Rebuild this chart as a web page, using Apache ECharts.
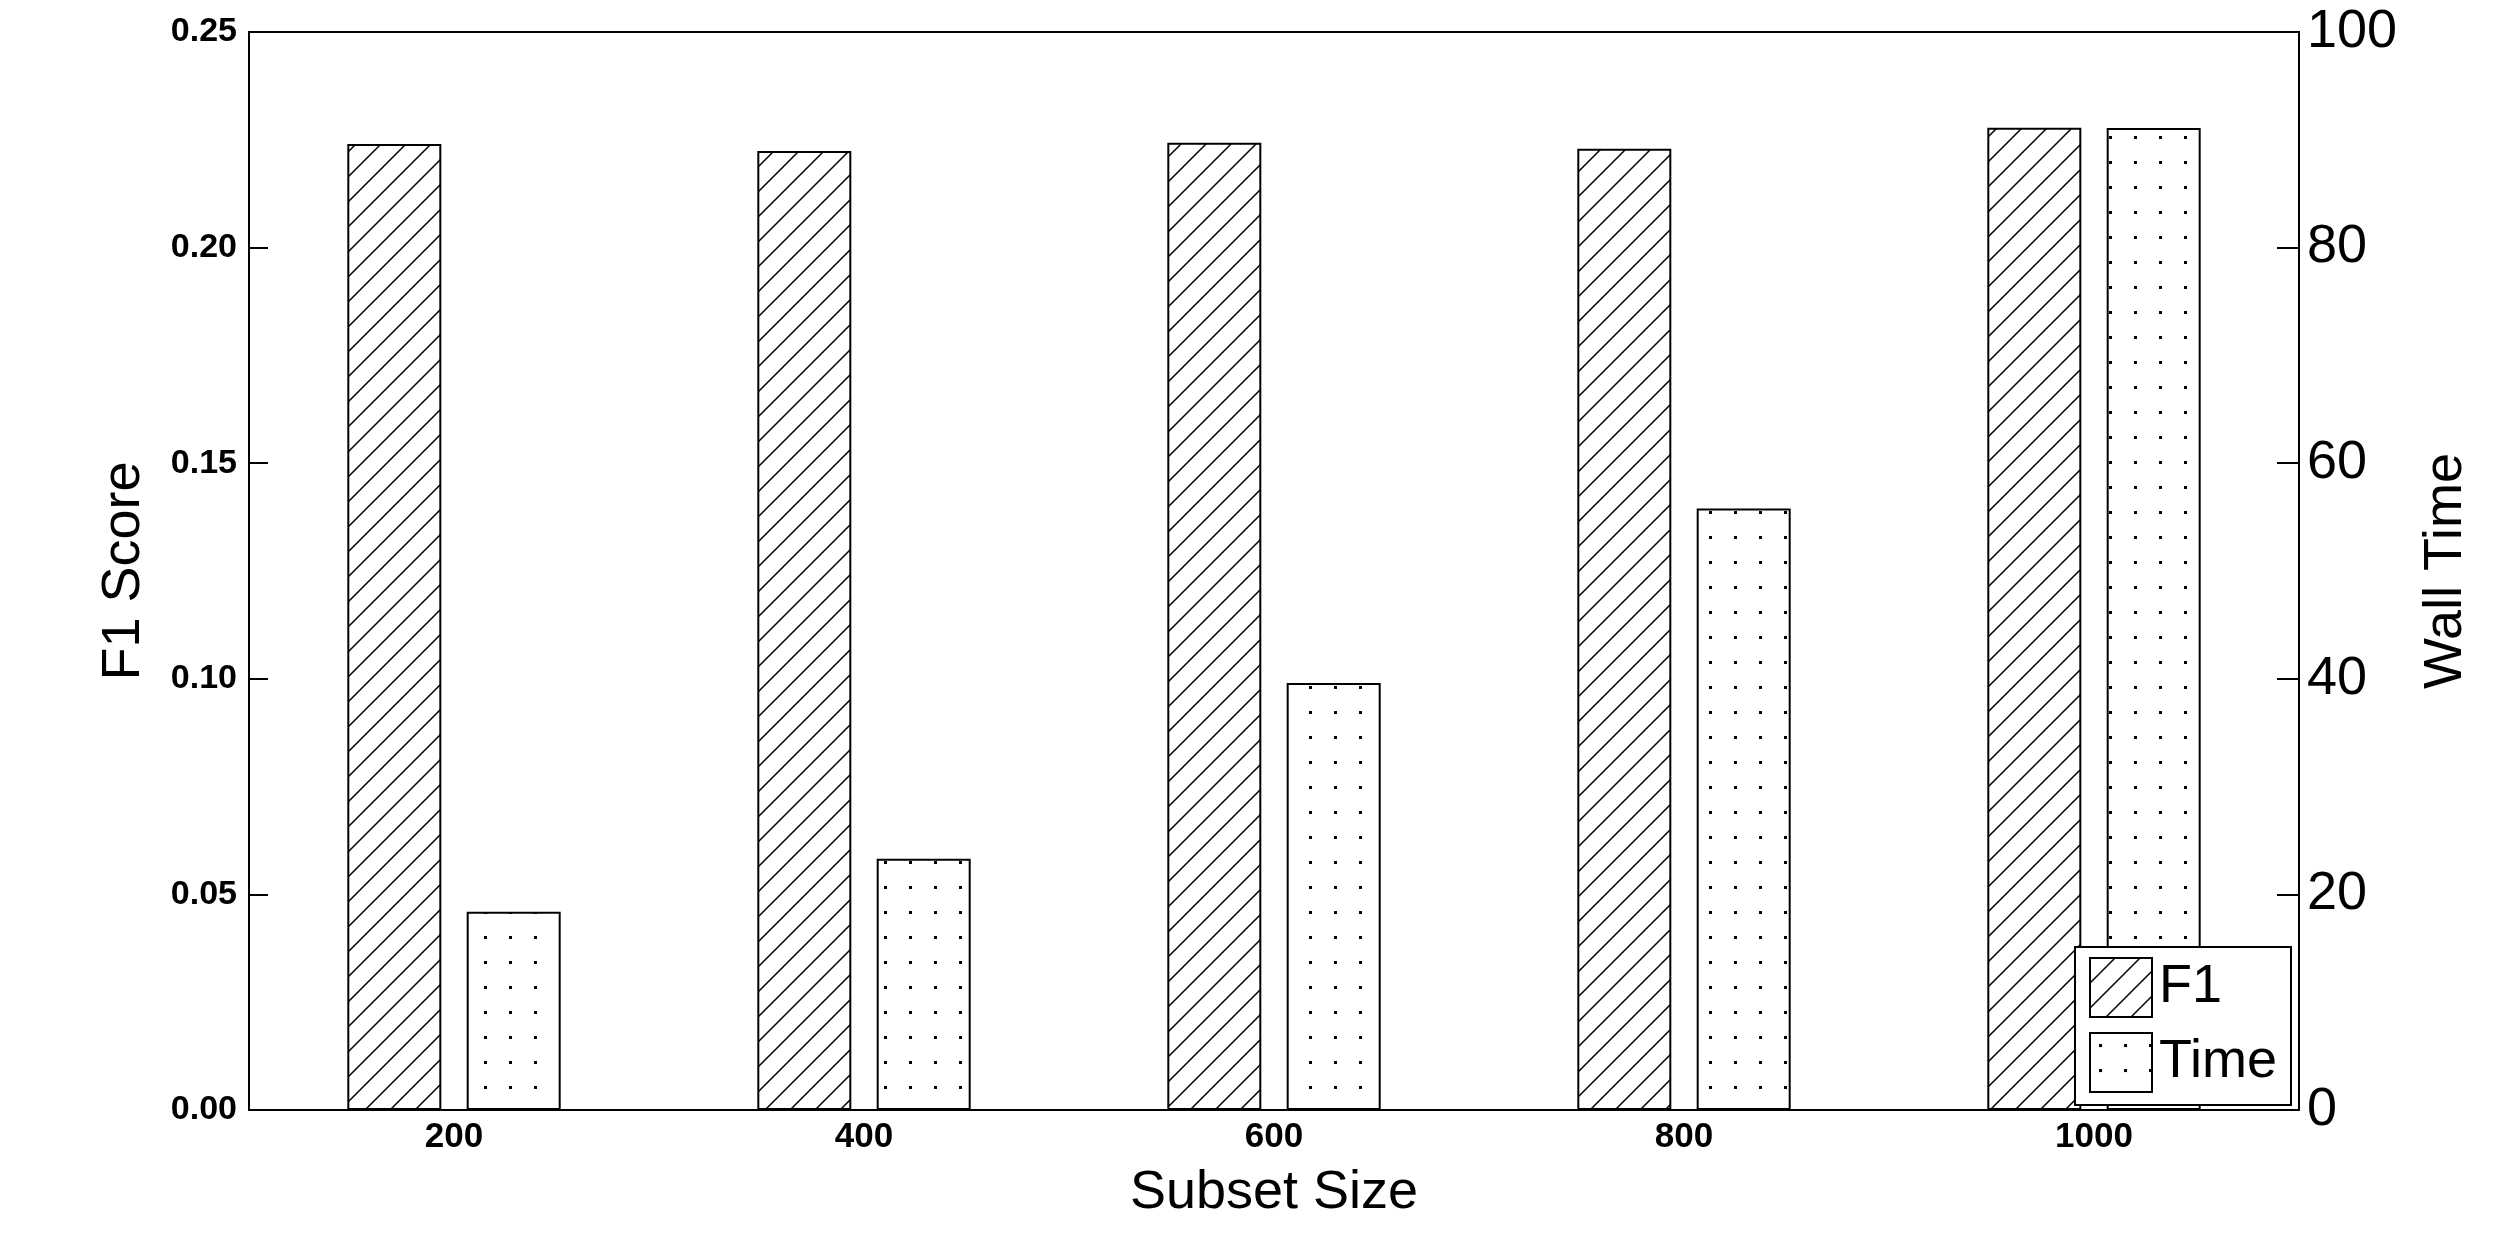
<!doctype html>
<html>
    <head>
        <meta charset="utf-8">
        <title>F1 Score vs Wall Time</title>
        <style>
            html, body { margin: 0; padding: 0; background: #fff; }
            #main { width: 2507px; height: 1259px; }
        </style>
    </head>
    <body>
        <div id="main"></div>
        <script src="https://cdn.jsdelivr.net/npm/echarts@6/dist/echarts.min.js"></script>
        <script>
            var subsetSizes = ['200', '400', '600', '800', '1000'];
            var f1Scores = [0.2240, 0.2224, 0.2243, 0.2229, 0.2278];
            var wallTimes = [18.4, 23.3, 39.6, 55.8, 91.1];
            var f1Ticks = [0, 0.05, 0.10, 0.15, 0.20, 0.25];
            var timeTicks = [0, 20, 40, 60, 80, 100];

            // hatch and dot fills, like the old matlab bar patterns
            function hatchPattern() {
                var c = document.createElement('canvas');
                c.width = 25; c.height = 25;
                var g = c.getContext('2d');
                g.fillStyle = '#fff';
                g.fillRect(0, 0, 25, 25);
                g.strokeStyle = '#000';
                g.lineWidth = 1.5;
                g.beginPath();
                g.moveTo(-2, 27); g.lineTo(27, -2);
                g.moveTo(-2, 2); g.lineTo(2, -2);
                g.moveTo(23, 27); g.lineTo(27, 23);
                g.stroke();
                return c;
            }

            function dotPattern() {
                var c = document.createElement('canvas');
                c.width = 25; c.height = 25;
                var g = c.getContext('2d');
                g.fillStyle = '#fff';
                g.fillRect(0, 0, 25, 25);
                g.fillStyle = '#000';
                g.fillRect(9, 11, 3, 3);
                return c;
            }

            var hatch = { image: hatchPattern(), repeat: 'repeat' };
            var dots = { image: dotPattern(), repeat: 'repeat' };

            var font = 'Liberation Sans, Arial, Helvetica, sans-serif';

            var chart = echarts.init(document.getElementById('main'));
            chart.setOption({
                animation: false,
                backgroundColor: '#fff',
                textStyle: { fontFamily: font, color: '#000' },
                grid: {
                    left: 249,
                    right: 208,
                    top: 32,
                    bottom: 149,
                    show: true,
                    borderColor: '#000',
                    borderWidth: 2,
                    backgroundColor: '#fff'
                },
                legend: {
                    orient: 'vertical',
                    right: 216,
                    top: 947,
                    padding: [10, 14, 12, 14],
                    itemGap: 14,
                    itemWidth: 62,
                    itemHeight: 59,
                    borderColor: '#000',
                    borderWidth: 2,
                    backgroundColor: '#fff',
                    icon: 'rect',
                    textStyle: { fontSize: 54, lineHeight: 59, color: '#000', fontFamily: font, padding: [0, 0, 0, 2] },
                    data: ['F1', 'Time']
                },
                xAxis: {
                    type: 'category',
                    data: subsetSizes,
                    name: 'Subset Size',
                    nameLocation: 'middle',
                    nameGap: 56,
                    nameTextStyle: { fontSize: 54, color: '#000' },
                    axisLine: { lineStyle: { color: '#000', width: 2 } },
                    axisTick: { alignWithLabel: true, inside: true, length: 22, lineStyle: { color: '#000', width: 2 } },
                    axisLabel: { fontSize: 35, fontWeight: 'bold', color: '#000', margin: 10 },
                    splitLine: { show: false }
                },
                yAxis: [
                    {
                        type: 'value',
                        min: f1Ticks[0],
                        max: f1Ticks[f1Ticks.length - 1],
                        interval: 0.05,
                        name: 'F1 Score',
                        nameLocation: 'middle',
                        nameGap: 98,
                        nameTextStyle: { fontSize: 54, color: '#000' },
                        axisLine: { show: true, lineStyle: { color: '#000', width: 2 } },
                        axisTick: { show: true, inside: true, length: 19, lineStyle: { color: '#000', width: 2 } },
                        axisLabel: {
                            fontSize: 34, fontWeight: 'bold', color: '#000', margin: 12,
                            formatter: function (v) { return v.toFixed(2); }
                        },
                        splitLine: { show: false }
                    },
                    {
                        type: 'value',
                        min: timeTicks[0],
                        max: timeTicks[timeTicks.length - 1],
                        interval: 20,
                        name: 'Wall Time',
                        nameLocation: 'middle',
                        nameGap: 120,
                        nameTextStyle: { fontSize: 54, color: '#000' },
                        axisLine: { show: true, lineStyle: { color: '#000', width: 2 } },
                        axisTick: { show: true, inside: true, length: 22, lineStyle: { color: '#000', width: 2 } },
                        axisLabel: { fontSize: 54, color: '#000', margin: 8 },
                        splitLine: { show: false }
                    }
                ],
                series: [
                    {
                        name: 'F1',
                        type: 'bar',
                        yAxisIndex: 0,
                        data: f1Scores,
                        barWidth: 94,
                        barGap: '27%',
                        itemStyle: { color: hatch, borderColor: '#000', borderWidth: 2 }
                    },
                    {
                        name: 'Time',
                        type: 'bar',
                        yAxisIndex: 1,
                        data: wallTimes,
                        barWidth: 94,
                        barGap: '27%',
                        itemStyle: { color: dots, borderColor: '#000', borderWidth: 2 }
                    }
                ]
            });
        </script>
    </body>
</html>
